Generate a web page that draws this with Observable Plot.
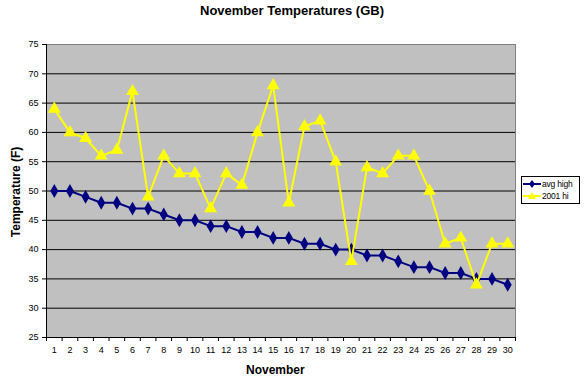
<!DOCTYPE html>
<html>
<head>
<meta charset="utf-8">
<script src="https://cdn.jsdelivr.net/npm/d3@7"></script>
<script src="https://cdn.jsdelivr.net/npm/@observablehq/plot@0.6"></script>
<style>
  html, body { margin: 0; padding: 0; background: #fff; }
  body { width: 584px; height: 381px; position: relative; overflow: hidden; font-family: "Liberation Sans", Arial, sans-serif; }
  #chart { position: absolute; left: 0; top: 0; }
  .lbl { position: absolute; font-weight: bold; color: #000; white-space: nowrap; }
  #title { left: 0; width: 584px; top: 3px; text-align: center; font-size: 13px; }
  #xlabel { left: 246px; top: 363px; font-size: 12px; }
  #ylabel { left: 16px; top: 192px; font-size: 12px; transform: translate(-50%, -50%) rotate(-90deg); }
  #legend { position: absolute; left: 521px; top: 176px; width: 57px; height: 26px; border: 1px solid #000; background: #fff; font-size: 8.5px; white-space: nowrap; overflow: hidden; }
  #legend .row { position: absolute; left: 1px; height: 12px; display: flex; align-items: center; white-space: nowrap; }
  #legend svg { display: block; flex: none; }
  #legend span { margin-left: 1px; letter-spacing: -0.2px; }
</style>
</head>
<body>
<div id="chart"></div>
<div id="title" class="lbl">November Temperatures (GB)</div>
<div id="xlabel" class="lbl">November</div>
<div id="ylabel" class="lbl">Temperature (F)</div>
<div id="legend"></div>
<script>
const days = d3.range(1, 31);
const avgHigh = [50,50,49,48,48,47,47,46,45,45,44,44,43,43,42,42,41,41,40,40,39,39,38,37,37,36,36,35,35,34];
const hi2001 = [64,60,59,56,57,67,49,56,53,53,47,53,51,60,68,48,61,62,55,38,54,53,56,56,50,41,42,34,41,41];
const yTicks = [25,30,35,40,45,50,55,60,65,70,75];
const seriesNames = ["avg high", "2001 hi"];
const seriesColors = ["#000080", "#FFFF00"];
const seriesSymbols = ["diamond", "triangle"];

const avgData = days.map((d, i) => ({day: d, temp: avgHigh[i]}));
const hiData = days.map((d, i) => ({day: d, temp: hi2001[i]}));
const boundaries = d3.range(0.5, 31, 1);

const chart = Plot.plot({
  width: 584,
  height: 381,
  marginLeft: 46,
  marginRight: 69,
  marginTop: 44,
  marginBottom: 44,
  style: {fontFamily: "Liberation Sans, Arial, sans-serif", fontSize: "9px", background: "transparent"},
  x: {domain: [0.5, 30.5], axis: null},
  y: {domain: [25, 75], axis: null},
  marks: [
    Plot.frame({fill: "#C0C0C0", stroke: "#808080"}),
    Plot.gridY(yTicks.filter(t => t > 25 && t < 75), {stroke: "#000", strokeOpacity: 1, strokeWidth: 1}),
    Plot.ruleX([0.5], {stroke: "#000"}),
    Plot.ruleY([25], {stroke: "#000"}),
    Plot.axisY({ticks: yTicks, tickSize: 4, tickPadding: 4, tickFormat: d => d, label: null, stroke: "#000", fill: "#000"}),
    Plot.axisX({ticks: boundaries, tickSize: 4, tickFormat: () => "", label: null}),
    Plot.axisX({ticks: days, tickSize: 0, tickPadding: 9, tickFormat: d => d, label: null}),
    Plot.line(avgData, {x: "day", y: "temp", stroke: seriesColors[0], strokeWidth: 2}),
    Plot.dot(avgData, {x: "day", y: "temp", symbol: seriesSymbols[0], fill: seriesColors[0], r: 4.2, stroke: "none"}),
    Plot.line(hiData, {x: "day", y: "temp", stroke: seriesColors[1], strokeWidth: 2}),
    Plot.dot(hiData, {x: "day", y: "temp", symbol: seriesSymbols[1], fill: seriesColors[1], r: 4.8, stroke: "none"})
  ]
});
document.getElementById("chart").appendChild(chart);

// Legend
const legend = document.getElementById("legend");
seriesNames.forEach((name, i) => {
  const row = document.createElement("div");
  row.className = "row";
  row.style.top = (1 + i * 12) + "px";
  const sym = i === 0
    ? '<path d="M9,2 L12,6 L9,10 L6,6 Z" fill="' + seriesColors[i] + '"/>'
    : '<path d="M9,2 L13,9 L5,9 Z" fill="' + seriesColors[i] + '"/>';
  row.innerHTML = '<svg width="18" height="12"><line x1="0" x2="18" y1="6" y2="6" stroke="' + seriesColors[i] + '" stroke-width="2"/>' + sym + '</svg><span>' + name + '</span>';
  legend.appendChild(row);
});
</script>
</body>
</html>
